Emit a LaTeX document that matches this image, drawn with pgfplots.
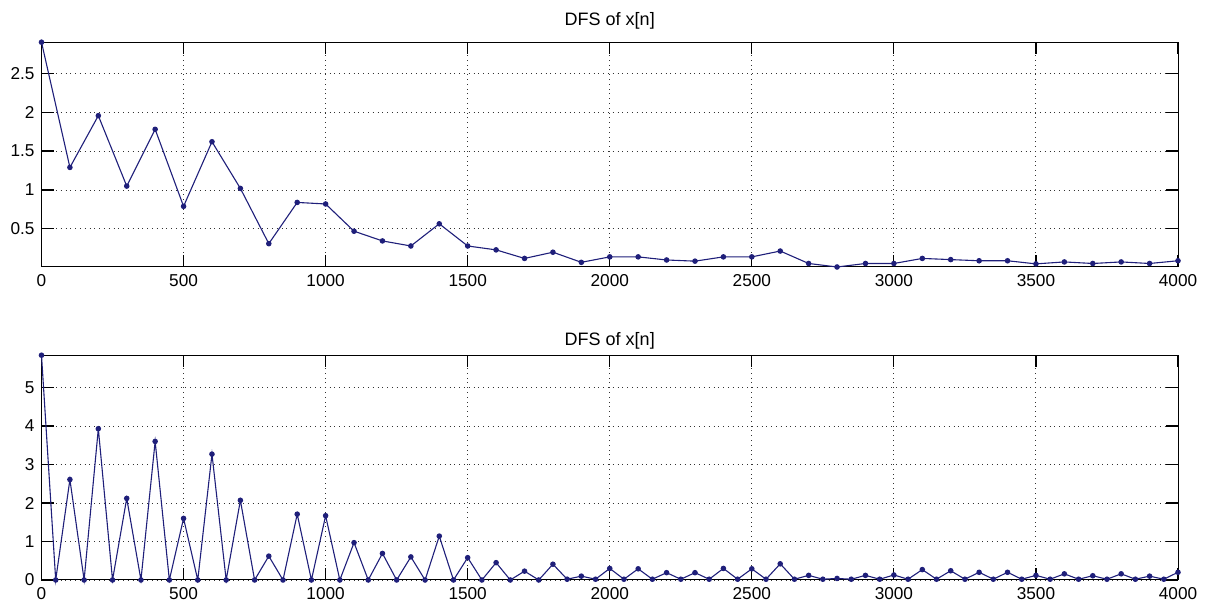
\documentclass[border=0pt]{standalone}
\usepackage{fontspec}
\setmainfont{Liberation Sans}
\usepackage{pgfplots}
\pgfplotsset{compat=1.18}
\definecolor{dfsblue}{rgb}{0.12,0.12,0.48}
\pgfplotsset{
  dfs/.style={
    scale only axis,
    width=568.25pt,
    height=112.4pt,
    xmin=0, xmax=4000,
    xtick={0,500,...,4000},
    tick align=inside,
    major tick length=6pt,
    major tick style={black, line width=0.6pt},
    axis line style={black, line width=0.5pt},
    grid=major,
    major grid style={black!80, dotted, line width=0.45pt},
    ticklabel style={font=\fontsize{8.6pt}{10pt}\selectfont},
    /pgf/number format/assume math mode=true,
    /pgf/number format/1000 sep={},
    scaled ticks=false,
    clip=false,
  },
  dfsline/.style={color=dfsblue, line width=0.55pt, mark=*, mark size=1.1pt, mark options={fill=dfsblue, draw=dfsblue, solid}},
}
\begin{document}
\begin{tikzpicture}
\useasboundingbox (0,0) rectangle (602.5pt,304pt);
\begin{axis}[dfs, at={(20.75pt,170.5pt)}, anchor=south west,
  title={DFS of x[n]},
  title style={font=\fontsize{9pt}{10pt}\selectfont, at={(0.5,1)}, anchor=south, yshift=-3pt},
  ymin=0.01, ymax=2.9,
  ytick={0.5,1,1.5,2,2.5},
  yticklabels={0.5,1,1.5,2,2.5},
]
\addplot[dfsline] coordinates {
(0,2.9) (100,1.29) (200,1.955) (300,1.05) (400,1.78) (500,0.79) (600,1.62) (700,1.02)
(800,0.31) (900,0.84) (1000,0.82) (1100,0.47) (1200,0.345) (1300,0.28) (1400,0.565)
(1500,0.28) (1600,0.23) (1700,0.12) (1800,0.2) (1900,0.07) (2000,0.14) (2100,0.14)
(2200,0.10) (2300,0.085) (2400,0.14) (2500,0.14) (2600,0.215) (2700,0.055) (2800,0.01)
(2900,0.055) (3000,0.055) (3100,0.12) (3200,0.105) (3300,0.09) (3400,0.09) (3500,0.05)
(3600,0.075) (3700,0.055) (3800,0.075) (3900,0.055) (4000,0.09)
};
\end{axis}
\begin{axis}[dfs, at={(20.75pt,14pt)}, anchor=south west,
  title={DFS of x[n]},
  title style={font=\fontsize{9pt}{10pt}\selectfont, at={(0.5,1)}, anchor=south, yshift=-6.5pt},
  ymin=0, ymax=5.84,
  ytick={0,1,2,3,4,5},
]
\addplot[dfsline] coordinates {
(0,5.84) (50,0) (100,2.61) (150,0) (200,3.93) (250,0) (300,2.12) (350,0) (400,3.6) (450,0)
(500,1.6) (550,0) (600,3.27) (650,0) (700,2.07) (750,0) (800,0.62) (850,0) (900,1.71) (950,0)
(1000,1.67) (1050,0) (1100,0.97) (1150,0) (1200,0.69) (1250,0) (1300,0.6) (1350,0) (1400,1.14) (1450,0)
(1500,0.58) (1550,0) (1600,0.45) (1650,0) (1700,0.23) (1750,0) (1800,0.41) (1850,0.02) (1900,0.1) (1950,0.02)
(2000,0.3) (2050,0.02) (2100,0.29) (2150,0.02) (2200,0.19) (2250,0.02) (2300,0.19) (2350,0.02) (2400,0.3) (2450,0.02)
(2500,0.29) (2550,0.02) (2600,0.42) (2650,0.02) (2700,0.12) (2750,0.02) (2800,0.04) (2850,0.02) (2900,0.12) (2950,0.02)
(3000,0.13) (3050,0.02) (3100,0.27) (3150,0.02) (3200,0.24) (3250,0.02) (3300,0.2) (3350,0.02) (3400,0.2) (3450,0.02)
(3500,0.12) (3550,0.02) (3600,0.16) (3650,0.02) (3700,0.11) (3750,0.02) (3800,0.16) (3850,0.02) (3900,0.1) (3950,0.02)
(4000,0.2)
};
\end{axis}
\end{tikzpicture}
\end{document}
